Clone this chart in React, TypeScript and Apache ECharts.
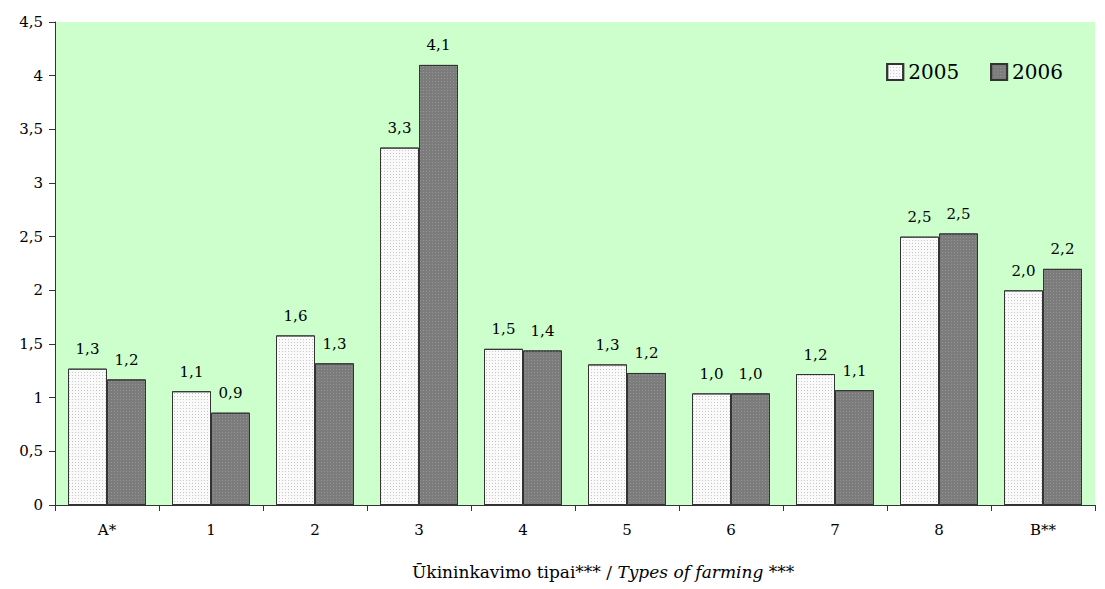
import React, { useEffect, useRef } from 'react';
import * as echarts from 'echarts';

const categories = ['A*', '1', '2', '3', '4', '5', '6', '7', '8', 'B**'];
const values2005 = [1.27, 1.06, 1.58, 3.33, 1.455, 1.31, 1.04, 1.22, 2.5, 2.0];
const values2006 = [1.17, 0.86, 1.32, 4.1, 1.44, 1.23, 1.04, 1.07, 2.53, 2.2];
const seriesNames = ['2005', '2006'];
const axisTitleMain = 'Ūkininkavimo tipai*** / ';
const axisTitleItalic = 'Types of farming';
const axisTitleEnd = ' ***';

const FONT = 'DejaVu Serif';

const fmtLabel = (v: number) => (Math.round(v * 10) / 10).toFixed(1).replace('.', ',');

export default function App() {
  const ref = useRef<HTMLDivElement>(null);
  useEffect(() => {
    if (!ref.current) return;
    const chart = echarts.init(ref.current, null, { renderer: 'svg' });
    const txt = { fontFamily: FONT, color: '#000' };
    const labelCfg = {
      show: true,
      position: 'top',
      distance: 12,
      ...txt,
      fontSize: 15,
      formatter: (p: any) => fmtLabel(p.value),
    };
    chart.setOption({
      animation: false,
      textStyle: { fontFamily: FONT },
      grid: { left: 55, right: 10, top: 22, bottom: 84, backgroundColor: '#ccffcc', show: true, borderWidth: 0 },
      legend: {
        right: 37,
        top: 57,
        icon: 'rect',
        itemWidth: 16,
        itemHeight: 16,
        itemGap: 31,
        textStyle: { ...txt, fontSize: 20 },
        data: seriesNames,
      },
      xAxis: {
        type: 'category',
        data: categories,
        axisLine: { lineStyle: { color: '#333', width: 1 } },
        axisTick: { show: true, length: 6, lineStyle: { color: '#333' } },
        axisLabel: { ...txt, fontSize: 15, margin: 17 },
      },
      yAxis: {
        type: 'value',
        min: 0,
        max: 4.5,
        interval: 0.5,
        splitLine: { show: false },
        axisLine: { show: true, lineStyle: { color: '#333', width: 1 } },
        axisTick: { show: true, length: 6, lineStyle: { color: '#333' } },
        axisLabel: {
          ...txt,
          fontSize: 15,
          margin: 12,
          formatter: (v: number) => String(v).replace('.', ','),
        },
      },
      series: [
        {
          name: seriesNames[0],
          type: 'bar',
          data: values2005,
          barGap: '0%',
          barCategoryGap: '25%',
          itemStyle: {
            color: '#fafafa',
            borderColor: '#333',
            borderWidth: 1,
            decal: { symbol: 'rect', symbolSize: 1, dashArrayX: [1, 2], dashArrayY: [1, 2], color: '#c8c8c8' },
          },
          label: labelCfg,
        },
        {
          name: seriesNames[1],
          type: 'bar',
          data: values2006,
          barGap: '0%',
          barCategoryGap: '25%',
          itemStyle: {
            color: '#7c7c7c',
            borderColor: '#333',
            borderWidth: 1,
            decal: { symbol: 'rect', symbolSize: 1, dashArrayX: [1, 2], dashArrayY: [1, 2], color: '#959595' },
          },
          label: labelCfg,
        },
      ],
      graphic: [
        {
          type: 'text',
          left: 412,
          top: 563,
          style: {
            text: `{a|${axisTitleMain}}{b|${axisTitleItalic}}{a|${axisTitleEnd}}`,
            rich: {
              a: { fontFamily: FONT, fontSize: 17, fill: '#000' },
              b: { fontFamily: FONT, fontSize: 17, fontStyle: 'italic', fill: '#000' },
            },
          },
        },
      ],
    });
    return () => chart.dispose();
  }, []);
  return <div ref={ref} style={{ width: 1105, height: 589, position: 'absolute', left: 0, top: 0 }} />;
}
